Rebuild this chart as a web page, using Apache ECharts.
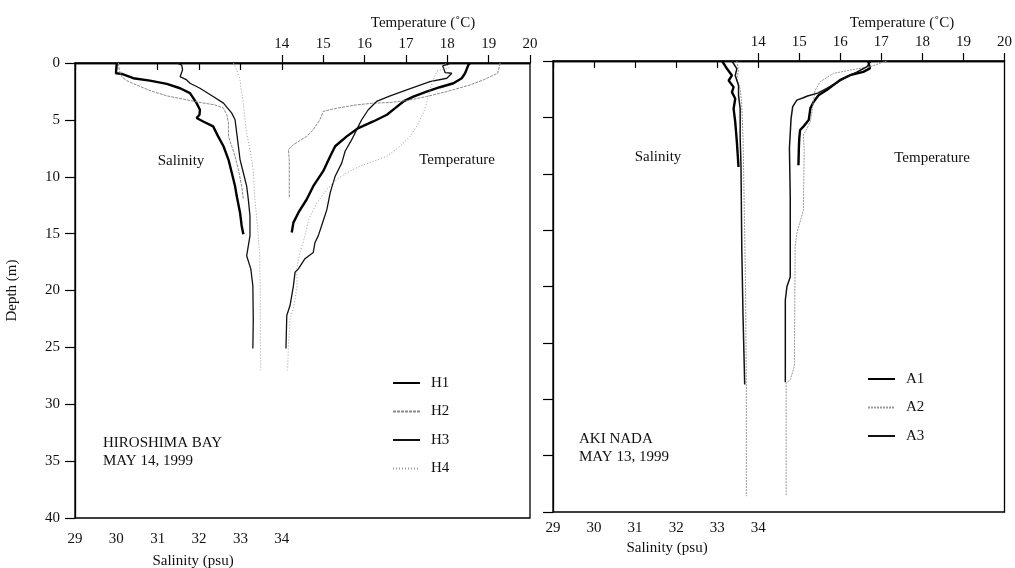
<!DOCTYPE html>
<html>
<head>
<meta charset="utf-8">
<script src="https://cdn.jsdelivr.net/npm/echarts@6/dist/echarts.min.js"></script>
<style>html,body{margin:0;padding:0;background:#fff}#c{width:1015px;height:568px}</style>
</head>
<body>
<div id="c"></div>
<script>
// ---------- tick labels ----------
const salTicks = [29, 30, 31, 32, 33, 34];
const tempTicks = [14, 15, 16, 17, 18, 19, 20];
const depthTicks = [0, 5, 10, 15, 20, 25, 30, 35, 40];

// ---------- HIROSHIMA BAY (May 14, 1999) ----------
const H1_salDepth = [0, 0.9, 0.96, 1.34, 1.55, 1.84, 2.22, 2.65, 3.53, 4.11, 4.55, 4.84, 5.14, 5.57, 6.45, 7.32, 8.49, 9.65, 10.83, 11.7, 13.16, 14.33, 15.05];
const H1_sal = [30.01, 29.99, 30.13, 30.41, 30.81, 31.22, 31.54, 31.78, 31.94, 32.02, 32.01, 31.94, 32.10, 32.34, 32.46, 32.59, 32.71, 32.79, 32.87, 32.91, 32.99, 33.03, 33.07];
const H1_tempDepth = [0, 0.18, 0.9, 1.34, 1.78, 2.13, 2.51, 2.95, 3.38, 3.97, 4.55, 5.14, 5.72, 6.45, 7.32, 8.2, 9.51, 10.83, 12.0, 13.16, 14.03, 14.9];
const H1_temp = [18.55, 18.51, 18.43, 18.35, 18.15, 17.82, 17.50, 17.18, 16.94, 16.74, 16.54, 16.21, 15.85, 15.57, 15.29, 15.17, 15.00, 14.76, 14.60, 14.40, 14.28, 14.24];

const H2_salDepth = [0, 0.61, 1.2, 1.55, 1.93, 2.42, 2.89, 3.18, 3.47, 3.68, 3.97, 4.55, 5.28, 6.45, 7.32, 8.2, 9.37, 10.83, 12.0];
const H2_sal = [30.05, 30.07, 30.13, 30.25, 30.49, 30.81, 31.22, 31.62, 32.02, 32.38, 32.59, 32.67, 32.71, 32.71, 32.79, 32.87, 32.95, 33.03, 33.07];
const H2_tempDepth = [0, 0.9, 1.49, 1.93, 2.51, 2.95, 3.3, 3.47, 3.53, 3.68, 3.97, 4.26, 4.99, 5.86, 6.45, 7.18, 7.6, 8.5, 11.8];
const H2_temp = [19.28, 19.22, 18.87, 18.55, 17.99, 17.50, 17.02, 16.62, 16.21, 15.81, 15.33, 15.00, 14.92, 14.76, 14.60, 14.28, 14.16, 14.18, 14.18];

const H3_salDepth = [0, 0.18, 0.61, 1.2, 1.49, 1.78, 2.22, 2.95, 3.53, 4.41, 4.99, 6.16, 7.32, 8.49, 9.65, 10.83, 11.99, 13.45, 15.2, 16.95, 18.1, 19.58, 22.5, 25.1];
const H3_sal = [31.46, 31.58, 31.60, 31.54, 31.70, 31.78, 32.02, 32.34, 32.59, 32.79, 32.87, 32.91, 32.95, 32.99, 33.07, 33.15, 33.19, 33.23, 33.23, 33.15, 33.25, 33.30, 33.31, 33.30];
const H3_tempDepth = [0, 0.26, 0.85, 0.9, 1.34, 1.63, 2.36, 2.89, 3.38, 4.11, 4.99, 5.86, 6.74, 7.76, 8.78, 9.95, 11.4, 12.87, 14.33, 15.2, 15.8, 16.66, 17.2, 18.1, 18.4, 19.6, 21.3, 22.2, 25.1];
const H3_temp = [18.11, 17.89, 17.95, 18.11, 17.99, 17.58, 17.02, 16.62, 16.29, 16.09, 15.93, 15.81, 15.69, 15.53, 15.45, 15.29, 15.17, 15.09, 14.96, 14.88, 14.80, 14.76, 14.56, 14.40, 14.32, 14.28, 14.20, 14.12, 14.10];

const H4_salDepth = [0, 0.6, 1.5, 2.65, 3.5, 5.0, 6.2, 7.6, 8.5, 9.4, 10.8, 12.0, 13.45, 15.2, 16.7, 19.6, 22.5, 27.0];
const H4_sal = [32.83, 32.91, 32.99, 33.03, 33.07, 33.11, 33.15, 33.23, 33.27, 33.31, 33.33, 33.35, 33.39, 33.43, 33.46, 33.48, 33.48, 33.49];
const H4_tempDepth = [0, 0.4, 0.7, 1.0, 1.49, 2.36, 3.53, 4.41, 5.57, 6.45, 7.32, 8.2, 8.64, 9.07, 9.65, 10.24, 11.1, 12.28, 13.74, 15.2, 16.66, 18.1, 19.6, 21.6, 22.5, 24.8, 27.0];
const H4_temp = [17.95, 18.05, 17.75, 17.72, 17.66, 17.58, 17.50, 17.42, 17.26, 17.10, 16.86, 16.54, 16.21, 15.89, 15.57, 15.33, 15.09, 14.85, 14.65, 14.56, 14.44, 14.36, 14.37, 14.28, 14.20, 14.16, 14.14];

// ---------- AKI NADA (May 13, 1999) ----------
const A1_salDepth = [0, 0.69, 1.28, 1.73, 2.32, 2.76, 3.35, 4.23, 5.42, 7.19, 9.4];
const A1_sal = [33.12, 33.24, 33.36, 33.28, 33.40, 33.36, 33.44, 33.40, 33.44, 33.48, 33.52];
const A1_tempDepth = [0, 0.66, 0.96, 1.26, 1.7, 2.14, 2.58, 3.03, 3.61, 4.2, 5.24, 5.82, 6.12, 6.86, 7.74, 9.25];
const A1_temp = [16.68, 16.72, 16.56, 16.24, 15.99, 15.83, 15.67, 15.47, 15.35, 15.27, 15.23, 15.10, 15.02, 15.00, 14.99, 14.98];

const A2_salDepth = [0, 0.84, 1.58, 2.46, 3.94, 6.88, 10.87, 19.72, 28.57, 38.6];
const A2_sal = [33.48, 33.52, 33.48, 33.56, 33.60, 33.63, 33.65, 33.69, 33.71, 33.71];
const A2_tempDepth = [0, 0.51, 0.81, 1.1, 1.84, 2.58, 3.32, 4.5, 5.38, 5.97, 6.57, 7.92, 13.23, 15.29, 16.47, 27.1, 28.27, 28.57, 38.6];
const A2_temp = [17.13, 16.72, 16.24, 15.83, 15.51, 15.39, 15.35, 15.31, 15.27, 15.19, 15.10, 15.12, 15.10, 14.94, 14.90, 14.88, 14.78, 14.68, 14.68];

const A3_salDepth = [0, 0.69, 1.28, 2.17, 3.05, 4.23, 6.88, 9.25, 16.77, 22.67, 27.1, 28.7];
const A3_sal = [33.36, 33.48, 33.44, 33.52, 33.52, 33.56, 33.56, 33.58, 33.60, 33.63, 33.66, 33.67];
const A3_tempDepth = [0, 0.5, 1.0, 1.4, 2.43, 2.85, 3.1, 3.26, 3.47, 4.05, 5.09, 7.74, 12.0, 19.16, 20.0, 21.2, 28.5];
const A3_temp = [16.75, 16.65, 16.40, 16.15, 15.67, 15.45, 15.20, 15.10, 14.94, 14.84, 14.80, 14.76, 14.78, 14.78, 14.70, 14.66, 14.66];

// ---------- build ----------
const FONT = '"Liberation Serif", "Times New Roman", serif';
const pairs = (vals, depths) => vals.map((v, i) => [v, depths[i]]);

const styles = {
  H1: {color: '#000', width: 2.4, type: 'solid'},
  H2: {color: '#8a8a8a', width: 1, type: [3, 1]},
  H3: {color: '#111', width: 1.3, type: 'solid'},
  H4: {color: '#9a9a9a', width: 1, type: [1, 2]},
  A1: {color: '#000', width: 2.4, type: 'solid'},
  A2: {color: '#999', width: 1, type: [2, 1]},
  A3: {color: '#111', width: 1.5, type: 'solid'}
};

const stations = [
  {name: 'H1', sal: pairs(H1_sal, H1_salDepth), temp: pairs(H1_temp, H1_tempDepth), panel: 0},
  {name: 'H2', sal: pairs(H2_sal, H2_salDepth), temp: pairs(H2_temp, H2_tempDepth), panel: 0},
  {name: 'H3', sal: pairs(H3_sal, H3_salDepth), temp: pairs(H3_temp, H3_tempDepth), panel: 0},
  {name: 'H4', sal: pairs(H4_sal, H4_salDepth), temp: pairs(H4_temp, H4_tempDepth), panel: 0},
  {name: 'A1', sal: pairs(A1_sal, A1_salDepth), temp: pairs(A1_temp, A1_tempDepth), panel: 1},
  {name: 'A2', sal: pairs(A2_sal, A2_salDepth), temp: pairs(A2_temp, A2_tempDepth), panel: 1},
  {name: 'A3', sal: pairs(A3_sal, A3_salDepth), temp: pairs(A3_temp, A3_tempDepth), panel: 1}
];

const series = [];
stations.forEach(s => {
  const ls = styles[s.name];
  ['sal', 'temp'].forEach(k => {
    series.push({
      name: s.name, type: 'line', symbol: 'none', silent: true,
      xAxisIndex: s.panel * 2 + (k === 'sal' ? 0 : 1),
      yAxisIndex: s.panel,
      data: s[k],
      lineStyle: {color: ls.color, width: ls.width, type: ls.type},
      itemStyle: {color: ls.color}
    });
  });
});

const lbl = {fontFamily: FONT, fontSize: 15, color: '#111'};
const axLine = {show: true, lineStyle: {color: '#000', width: 1.3}};
function salAxis(g, margin) {
  return {type: 'value', gridIndex: g, position: 'bottom', min: 29, max: 40, interval: 1,
    axisLine: axLine, splitLine: {show: false},
    axisTick: {show: true, length: 7, inside: false, customValues: salTicks, lineStyle: {color: '#000', width: 1.2}},
    axisLabel: Object.assign({margin: margin, customValues: salTicks}, lbl)};
}
function tempAxis(g) {
  return {type: 'value', gridIndex: g, position: 'top', min: 9, max: 20, interval: 1,
    axisLine: axLine, splitLine: {show: false},
    axisTick: {show: true, length: 8, inside: false, customValues: tempTicks, lineStyle: {color: '#000', width: 1.2}},
    axisLabel: Object.assign({margin: 11, customValues: tempTicks, showMaxLabel: true}, lbl)};
}
function depthAxis(g, showLabels) {
  return {type: 'value', gridIndex: g, inverse: true, min: 0, max: 40, interval: 5,
    axisLine: axLine, splitLine: {show: false},
    axisTick: {show: true, length: 10, inside: false, lineStyle: {color: '#000', width: 1.2}},
    axisLabel: Object.assign({show: showLabels, margin: 15, customValues: depthTicks}, lbl),
    name: showLabels ? 'Depth (m)' : '', nameLocation: 'middle', nameGap: 55, nameRotate: 90,
    nameTextStyle: {fontFamily: FONT, fontSize: 15, color: '#111'}};
}

function txt(text, x, y, align) {
  return {type: 'text', silent: true, style: {text: text, x: x, y: y, align: align || 'center', verticalAlign: 'middle',
    font: '15px ' + FONT, fill: '#111', lineHeight: 18}};
}

const legendBase = {orient: 'vertical', padding: 0, itemWidth: 27, itemHeight: 10, itemGap: 13.5,
  itemStyle: {color: 'rgba(0,0,0,0)', borderWidth: 0, opacity: 0},
  textStyle: {fontFamily: FONT, fontSize: 15, color: '#111', lineHeight: 15, padding: [0, 0, 0, 6]},
  selectedMode: false};

const option = {
  backgroundColor: '#fff',
  animation: false,
  grid: [
    {left: 75, top: 63, width: 455, height: 455, show: true, borderColor: '#000', borderWidth: 1.3, backgroundColor: 'transparent'},
    {left: 553, top: 61, width: 452, height: 451, show: true, borderColor: '#000', borderWidth: 1.3, backgroundColor: 'transparent'}
  ],
  xAxis: [salAxis(0, 14), tempAxis(0), salAxis(1, 9), tempAxis(1)],
  yAxis: [depthAxis(0, true), depthAxis(1, false)],
  legend: [
    Object.assign({}, legendBase, {left: 392, top: 375.5, data: ['H1', 'H2', 'H3', 'H4']}),
    Object.assign({}, legendBase, {left: 867, top: 371.5, data: ['A1', 'A2', 'A3']})
  ],
  graphic: [
    txt('Temperature (˚C)', 423, 23),
    txt('Temperature (˚C)', 902, 23),
    txt('Salinity (psu)', 193, 561),
    txt('Salinity (psu)', 667, 548),
    txt('Salinity', 181, 161),
    txt('Temperature', 457, 160),
    txt('Salinity', 658, 157),
    txt('Temperature', 932, 158),
    txt('HIROSHIMA BAY\nMAY 14, 1999', 103, 452, 'left'),
    txt('AKI NADA\nMAY 13, 1999', 579, 448, 'left')
  ],
  series: series
};

const chart = echarts.init(document.getElementById('c'), null, {renderer: 'canvas'});
chart.setOption(option);
</script>
</body>
</html>
